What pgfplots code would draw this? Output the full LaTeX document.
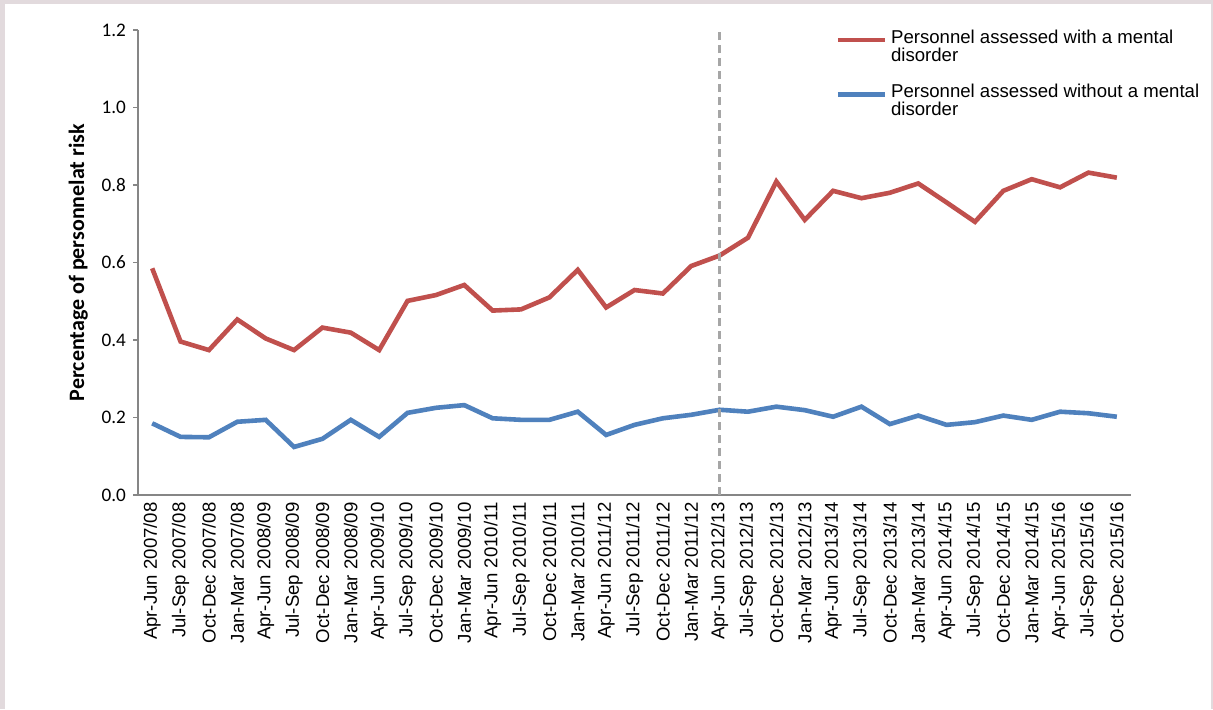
\documentclass[border=0pt]{standalone}
\usepackage{fontspec}
\setmainfont{Liberation Sans}
\newfontfamily\carlito{Carlito}
\usepackage{pgfplots}
\usepackage{pgfplotstable}
\pgfplotsset{compat=1.18}
\definecolor{framec}{RGB}{226,218,221}
\definecolor{redl}{RGB}{192,80,77}
\definecolor{bluel}{RGB}{79,129,189}
\definecolor{axgray}{RGB}{134,134,134}
\definecolor{dashgray}{RGB}{166,166,166}

\pgfplotstableread{
x red blue
0 0.585 0.185
1 0.396 0.150
2 0.374 0.149
3 0.453 0.189
4 0.404 0.194
5 0.374 0.124
6 0.432 0.145
7 0.419 0.194
8 0.374 0.150
9 0.501 0.212
10 0.516 0.225
11 0.542 0.232
12 0.476 0.198
13 0.479 0.194
14 0.510 0.194
15 0.581 0.215
16 0.484 0.155
17 0.529 0.181
18 0.520 0.198
19 0.591 0.207
20 0.618 0.220
21 0.664 0.215
22 0.809 0.228
23 0.710 0.219
24 0.785 0.202
25 0.766 0.228
26 0.780 0.183
27 0.804 0.205
28 0.755 0.181
29 0.705 0.188
30 0.785 0.205
31 0.815 0.194
32 0.794 0.215
33 0.832 0.211
34 0.819 0.202
}\datatable

\begin{document}
\begin{tikzpicture}
\fill[framec] (0pt,0pt) rectangle (606.5pt,-354.5pt);
\fill[white] (2.5pt,-2pt) rectangle (605.5pt,-354.5pt);
\begin{axis}[
  at={(69pt,-247.5pt)}, anchor=south west,
  scale only axis, width=496.5pt, height=232.5pt,
  xmin=-0.5, xmax=34.5, ymin=0, ymax=1.2,
  axis x line*=bottom, axis y line*=left,
  axis line style={draw=axgray, line width=0.6pt},
  xtick={0,...,34},
  xticklabels={Apr-Jun 2007/08,Jul-Sep 2007/08,Oct-Dec 2007/08,Jan-Mar 2007/08,
    Apr-Jun 2008/09,Jul-Sep 2008/09,Oct-Dec 2008/09,Jan-Mar 2008/09,
    Apr-Jun 2009/10,Jul-Sep 2009/10,Oct-Dec 2009/10,Jan-Mar 2009/10,
    Apr-Jun 2010/11,Jul-Sep 2010/11,Oct-Dec 2010/11,Jan-Mar 2010/11,
    Apr-Jun 2011/12,Jul-Sep 2011/12,Oct-Dec 2011/12,Jan-Mar 2011/12,
    Apr-Jun 2012/13,Jul-Sep 2012/13,Oct-Dec 2012/13,Jan-Mar 2012/13,
    Apr-Jun 2013/14,Jul-Sep 2013/14,Oct-Dec 2013/14,Jan-Mar 2013/14,
    Apr-Jun 2014/15,Jul-Sep 2014/15,Oct-Dec 2014/15,Jan-Mar 2014/15,
    Apr-Jun 2015/16,Jul-Sep 2015/16,Oct-Dec 2015/16},
  xtick style={draw=none},
  xticklabel style={rotate=90, anchor=east, font=\fontsize{9.3}{11}\selectfont, inner sep=1pt, xshift=0pt},
  extra x ticks={-0.5,0.5,...,34.5},
  extra x tick labels={},
  extra x tick style={tick style={draw=axgray, line width=0.6pt}, major tick length=2.5pt, tick align=outside},
  ytick={0,0.2,0.4,0.6,0.8,1.0,1.2},
  yticklabels={0.0,0.2,0.4,0.6,0.8,1.0,1.2},
  yticklabel style={font=\carlito\fontsize{9.6}{11}\selectfont},
  ytick style={draw=axgray, line width=0.6pt},
  major tick length=2.5pt, tick align=outside,
  ylabel={Percentage of personnelat risk},
  ylabel style={font=\carlito\bfseries\fontsize{11}{13}\selectfont},
  legend style={draw=none, fill=none, at={(0.702,1.01)}, anchor=north west,
    font=\fontsize{9.3}{9}\selectfont, cells={align=left}, row sep=6pt,
    inner sep=0pt},
  legend cell align=left,
  legend image code/.code={\draw[#1] (0pt,3.5pt) -- (23.5pt,3.5pt);},
  clip=false,
]
\addplot[redl, line width=2.3pt] table[x=x, y=red] {\datatable};
\addlegendentry{Personnel assessed with a mental\\disorder}
\addplot[bluel, line width=2.3pt] table[x=x, y=blue] {\datatable};
\addlegendentry{Personnel assessed without a mental\\disorder}
\addplot[dashgray, line width=1.25pt, dash pattern=on 4pt off 2.5pt, forget plot] coordinates {(20,0) (20,1.2)};
\end{axis}
\pgfresetboundingbox
\useasboundingbox (0pt,0pt) rectangle (606.5pt,-354.5pt);
\end{tikzpicture}
\end{document}
